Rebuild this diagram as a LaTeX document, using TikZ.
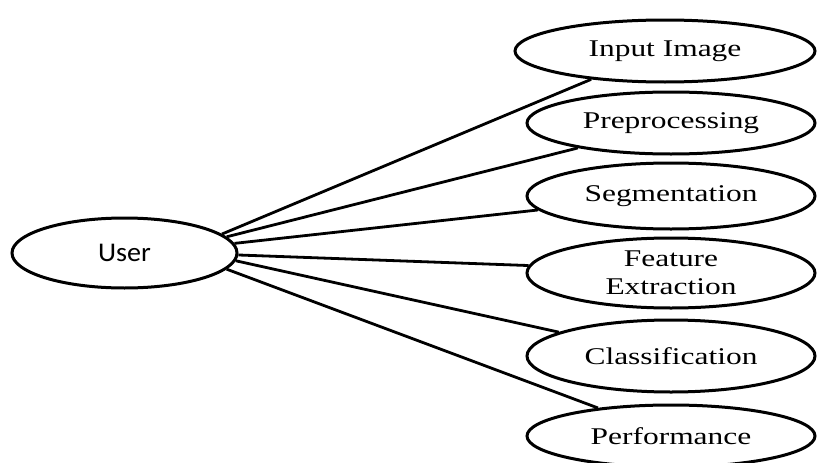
\documentclass[tikz,border=0pt]{standalone}
\usepackage{fontspec}
\usepackage{graphicx}
\setmainfont{Liberation Serif}
\newfontfamily\userfont{Carlito}
\usetikzlibrary{shapes.geometric}
\newcommand{\wx}[1]{\scalebox{1.31}[1]{#1}}
\tikzset{
  oval/.style={draw=black, line width=3pt, ellipse, inner sep=0pt, fill=white},
  task/.style={oval, minimum width=288pt, minimum height=62pt, align=center,
    font=\fontsize{24}{28}\selectfont},
  link/.style={draw=black, line width=2.8pt}
}
\begin{document}
\begin{tikzpicture}[x=1pt,y=-1pt]
\useasboundingbox[fill=white] (0,0) rectangle (817,463);
\node[oval, minimum width=225pt, minimum height=70pt,
  font=\userfont\fontsize{27}{30}\selectfont] (user) at (124.5,253) {\scalebox{1.04}[1]{User}};
\node[task, minimum width=300pt] (inp) at (665,51) {\wx{Input Image}};
\node[task] (pre) at (671,123) {\wx{Preprocessing}};
\node[task, minimum height=66pt] (seg) at (671,196) {\wx{Segmentation}};
\node[task, minimum height=70pt] (fea) at (671,273) {\wx{Feature}\\\wx{Extraction}};
\node[task, minimum height=72pt] (cla) at (671,356) {\wx{Classification}};
\node[task] (per) at (671,436) {\wx{Performance}};
\draw[link] (user.11.8) -- (inp.-159.7);
\draw[link] (user.9) -- (pre.195);
\draw[link] (user.5.4) -- (seg.186.7);
\draw[link] (user.-1) -- (fea.177.6);
\draw[link] (user.-4.7) -- (cla.168.1);
\draw[link] (user.-9.4) -- (per.159.8);
\end{tikzpicture}
\end{document}
